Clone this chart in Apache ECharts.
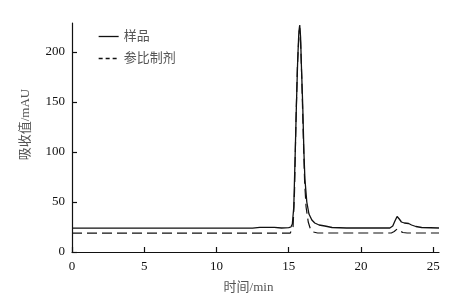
<!DOCTYPE html>
<html><head><meta charset="utf-8">
<script src="https://cdn.jsdelivr.net/npm/echarts@6/dist/echarts.min.js"></script>
<style>html,body{margin:0;padding:0;background:#fff}#c{width:460px;height:299px}</style>
</head><body><div id="c"></div>
<script>
var seriesNames = ['样品', '参比制剂'];
var xTicks = [0, 5, 10, 15, 20, 25];
var yTicks = [0, 50, 100, 150, 200];
// sample (solid): [time, absorbance]
var sampleTime = [0, 12.5, 13, 14, 14.5, 15.0, 15.15, 15.25, 15.35, 15.45, 15.53, 15.62, 15.7, 15.76, 15.82, 15.88, 15.97, 16.05, 16.12, 16.25, 16.4, 16.6, 16.8, 17.1, 17.5, 18, 19, 22.0, 22.2, 22.35, 22.5, 22.65, 22.8, 23.0, 23.3, 23.5, 23.8, 24.2, 25.4];
var sampleVal  = [23.8, 23.8, 24.6, 24.6, 24.0, 24.3, 25, 28, 45, 100, 146, 192, 220, 227, 215, 185, 146, 100, 73, 50, 38, 32, 29, 27, 26, 24.5, 24, 24, 26, 31, 35.5, 33, 30, 29, 28.5, 27, 25.5, 24.5, 24];
// reference (dashed)
var refTime = [0, 15.1, 15.2, 15.3, 15.4, 15.5, 15.6, 15.7, 15.76, 15.82, 15.9, 16.0, 16.1, 16.2, 16.35, 16.5, 16.7, 17, 22.1, 22.3, 22.5, 22.7, 22.9, 23.2, 25.4];
var refVal  = [18.8, 18.8, 20, 25, 60, 130, 185, 215, 224, 210, 175, 120, 70, 45, 30, 23, 20, 19, 19, 20.5, 23, 21, 19.5, 19, 19];

function zip(a, b) { return a.map(function (v, i) { return [v, b[i]]; }); }

var serif = "'Liberation Serif', 'Times New Roman', 'Noto Sans CJK SC', serif";
var chart = echarts.init(document.getElementById('c'), null, {renderer: 'canvas'});
chart.setOption({
  animation: false,
  backgroundColor: '#fff',
  grid: {left: 72, right: 21, top: 23, bottom: 45},
  legend: {
    orient: 'vertical', left: 93, top: 25, itemWidth: 20, itemHeight: 14, itemGap: 9,
    textStyle: {fontFamily: serif, fontSize: 13, color: '#555'},
    data: [
      {name: seriesNames[0], itemStyle: {opacity: 0}, lineStyle: {type: 'solid', width: 1.3, color: '#111'}},
      {name: seriesNames[1], itemStyle: {opacity: 0}, lineStyle: {type: [4, 3], width: 1.3, color: '#111'}}
    ]
  },
  xAxis: {
    type: 'value', min: 0, max: 25.4,
    name: '时间/min', nameLocation: 'middle', nameGap: 29,
    nameTextStyle: {fontFamily: serif, fontSize: 13, color: '#555', padding: [0, 14, 0, 0]},
    axisLine: {show: true, onZero: false, lineStyle: {color: '#111', width: 1.2}},
    axisTick: {show: true, inside: true, length: 5, customValues: xTicks, lineStyle: {color: '#111', width: 1.2}},
    axisLabel: {customValues: xTicks, margin: 8, fontFamily: serif, fontSize: 13, color: '#111'},
    splitLine: {show: false}
  },
  yAxis: {
    type: 'value', min: 0, max: 229,
    name: '吸收值/mAU', nameLocation: 'middle', nameGap: 40,
    nameTextStyle: {fontFamily: serif, fontSize: 13, color: '#555', padding: [0, 0, 0, 26]},
    axisLine: {show: true, lineStyle: {color: '#111', width: 1.2}},
    axisTick: {show: true, inside: true, length: 5, customValues: yTicks, lineStyle: {color: '#111', width: 1.2}},
    axisLabel: {customValues: yTicks, margin: 7, fontFamily: serif, fontSize: 13, color: '#111'},
    splitLine: {show: false}
  },
  series: [
    {name: seriesNames[0], type: 'line', data: zip(sampleTime, sampleVal), showSymbol: false, symbol: 'none',
     lineStyle: {color: '#111', width: 1.3, type: 'solid'}, itemStyle: {color: '#111'}},
    {name: seriesNames[1], type: 'line', data: zip(refTime, refVal), showSymbol: false, symbol: 'none',
     lineStyle: {color: '#111', width: 1.2, type: [10, 5]}, itemStyle: {color: '#111'}}
  ]
});
</script></body></html>
